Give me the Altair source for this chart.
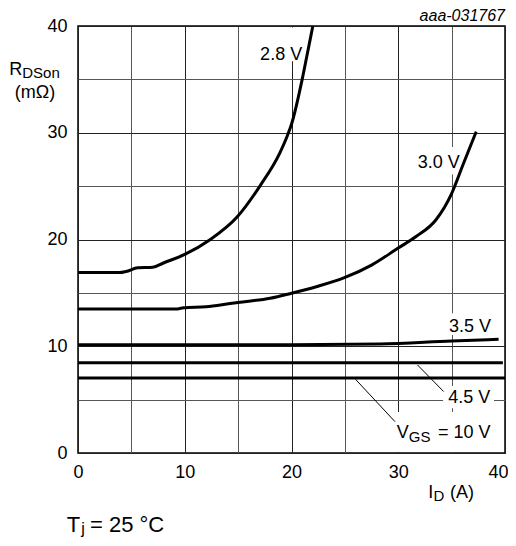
import altair as alt
import pandas as pd

FONT = "Liberation Sans"

# ---- curve data (I_D in A, R_DSon in mOhm) ----
x_28 = [0, 3.9, 4.5, 5.6, 7.0, 8.0, 10.0, 12.4, 14.9, 17.1, 18.9, 19.6, 20.0, 21.0, 21.5, 22.0]
y_28 = [16.9, 16.9, 17.0, 17.35, 17.4, 17.8, 18.6, 20.0, 22.1, 25.1, 28.1, 29.7, 30.8, 35.0, 37.5, 40.0]
x_30 = [0, 9.3, 9.9, 12.0, 14.25, 15.0, 18.0, 20.0, 22.4, 24.9, 27.5, 30.0, 31.7, 33.5, 35.0, 36.1, 37.3]
y_30 = [13.5, 13.5, 13.6, 13.7, 14.0, 14.1, 14.5, 14.97, 15.6, 16.4, 17.6, 19.2, 20.3, 21.8, 24.3, 27.1, 30.1]
x_35 = [0, 20.0, 28.3, 35.0, 39.4]
y_35 = [10.15, 10.15, 10.22, 10.5, 10.65]
x_45 = [0, 39.8]
y_45 = [8.46, 8.46]
x_10 = [0, 40.0]
y_10 = [7.03, 7.03]

series = [("2.8 V", x_28, y_28), ("3.0 V", x_30, y_30), ("3.5 V", x_35, y_35),
          ("4.5 V", x_45, y_45), ("10 V", x_10, y_10)]
rows = []
for name, xs, ys in series:
    for i, (a, b) in enumerate(zip(xs, ys)):
        rows.append({"vgs": name, "id": a, "r": b, "order": i})
curves = pd.DataFrame(rows)

# ---- white label boxes ----
box_x = [16.6, 31.6, 34.47, 34.2, 29.5]
box_x2 = [21.1, 36.0, 38.78, 38.97, 38.97]
box_y = [36.7, 26.1, 11.05, 4.2, 0.1]
box_y2 = [39.85, 28.67, 13.1, 6.28, 3.84]
boxes = pd.DataFrame({"x": box_x, "x2": box_x2, "y": box_y, "y2": box_y2})

# ---- leader lines ----
lead_x = [31.8, 26.0]
lead_y = [8.25, 6.9]
lead_x2 = [34.25, 29.7]
lead_y2 = [5.76, 2.93]
leaders = pd.DataFrame({"x": lead_x, "y": lead_y, "x2": lead_x2, "y2": lead_y2})

# ---- text pieces (left aligned, alphabetic baseline) ----
txt = ["2.8 V", "3.0 V", "3.5 V", "4.5 V", "V", "GS", "= 10 V",
       "I", "D", "(A)",
       "R", "DSon", "(m\u03a9)",
       "T", "j", "= 25 \u00b0C"]
txt_x = [17.06, 31.82, 34.75, 34.69, 29.85, 30.98, 33.72,
         32.8, 33.3, 34.85,
         -6.44, -5.22, -5.92,
         -1.06, 0.3, 1.12]
txt_y = [36.82, 26.67, 11.36, 4.66, 1.37, 1.02, 1.37,
         -4.26, -4.5, -4.22,
         35.41, 35.15, 33.29,
         -7.37, -7.6, -7.37]
txt_size = [18, 18, 18, 18, 18, 15, 18,
            18, 15, 18,
            18, 15, 18,
            22, 16, 22]
texts = pd.DataFrame({"t": txt, "x": txt_x, "y": txt_y, "s": txt_size})

code_txt = ["aaa-031767"]
code_x = [40.0]
code_y = [40.45]
codes = pd.DataFrame({"t": code_txt, "x": code_x, "y": code_y})

grid_vals = list(range(0, 41, 5))
grid_color = {"condition": {"test": "datum.value % 10 === 0", "value": "#222222"}, "value": "#555555"}

xscale = alt.Scale(domain=[0, 40], nice=False, zero=True)
yscale = alt.Scale(domain=[0, 40], nice=False, zero=True)

xaxis = alt.Axis(values=grid_vals, labelExpr="datum.value % 10 === 0 ? datum.label : ''",
                 title=None, ticks=False, tickSize=0, domain=False, grid=True,
                 gridColor=grid_color, gridWidth=1, gridOpacity=1,
                 labelFont=FONT, labelFontSize=18, labelColor="#000", labelPadding=10,
                 labelAlign={"condition": {"test": "datum.value === 40", "value": "right"},
                             "value": "center"},
                 labelOffset={"condition": {"test": "datum.value === 40", "value": 3},
                              "value": 0},
                 labelFlush=False, labelOverlap=False)
yaxis = alt.Axis(values=grid_vals, labelExpr="datum.value % 10 === 0 ? datum.label : ''",
                 title=None, ticks=False, tickSize=0, domain=False, grid=True,
                 gridColor=grid_color, gridWidth=1, gridOpacity=1,
                 labelFont=FONT, labelFontSize=18, labelColor="#000", labelPadding=11,
                 labelFlush=False, labelOverlap=False)

box_layer = alt.Chart(boxes).mark_rect(fill="white", stroke=None).encode(
    x=alt.X("x:Q", scale=xscale, axis=xaxis),
    x2="x2:Q",
    y=alt.Y("y:Q", scale=yscale, axis=yaxis),
    y2="y2:Q",
)

line_layer = alt.Chart(curves).mark_line(color="black", strokeWidth=3, interpolate="monotone",
                                         clip=False).encode(
    x=alt.X("id:Q", scale=xscale),
    y=alt.Y("r:Q", scale=yscale),
    detail="vgs:N",
    order="order:Q",
)

lead_layer = alt.Chart(leaders).mark_rule(color="black", strokeWidth=1).encode(
    x=alt.X("x:Q", scale=xscale), y=alt.Y("y:Q", scale=yscale),
    x2="x2:Q", y2="y2:Q",
)

text_layer = alt.Chart(texts).mark_text(align="left", baseline="alphabetic", font=FONT,
                                        color="black").encode(
    x=alt.X("x:Q", scale=xscale), y=alt.Y("y:Q", scale=yscale),
    text="t:N",
    size=alt.Size("s:Q", scale=None, legend=None),
)

code_layer = alt.Chart(codes).mark_text(align="right", baseline="alphabetic", font=FONT,
                                        fontSize=16, fontStyle="italic", color="black").encode(
    x=alt.X("x:Q", scale=xscale), y=alt.Y("y:Q", scale=yscale),
    text="t:N",
)

chart = alt.layer(box_layer, line_layer, lead_layer, text_layer, code_layer).properties(
    width=427, height=427,
    autosize=alt.AutoSizeParams(type="none"),
    padding={"left": 70, "top": 18, "right": 3, "bottom": 85},
    background="white",
).configure_view(stroke="#000", strokeWidth=1.5)

chart.save("out.html", embed_options={"renderer": "svg", "actions": False})
